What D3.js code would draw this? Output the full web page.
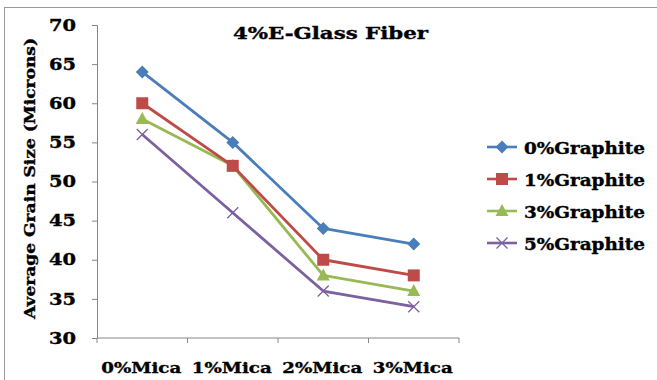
<!DOCTYPE html>
<html>
<head>
<meta charset="utf-8">
<script src="https://cdn.jsdelivr.net/npm/d3@7"></script>
<style>
  html, body { margin: 0; padding: 0; background: #fff; }
  svg { display: block; }
  text { font-family: "DejaVu Serif", serif; font-weight: bold; fill: #000; stroke: #000; stroke-width: 0.35px; }
</style>
</head>
<body>
<div id="chart"></div>
<script>
// Mica content categories along the x axis
const categories = ["0%Mica", "1%Mica", "2%Mica", "3%Mica"];

// Average grain size (microns) for each graphite content
const graphite0 = [64, 55, 44, 42];
const graphite1 = [60, 52, 40, 38];
const graphite3 = [58, 52, 38, 36];
const graphite5 = [56, 46, 36, 34];

const seriesNames = ["0%Graphite", "1%Graphite", "3%Graphite", "5%Graphite"];
const yTicks = [30, 35, 40, 45, 50, 55, 60, 65, 70];

const titleText = "4%E-Glass Fiber";
const yTitle = "Average Grain Size (Microns)";

const colors = ["#4a7ebb", "#be4b48", "#98b954", "#7d60a0"];
const symbols = ["diamond", "square", "triangle", "cross"];

const W = 657, H = 380;
const svg = d3.select("#chart").append("svg").attr("width", W).attr("height", H);

// Outer chart frame
svg.append("rect")
  .attr("x", 4.5).attr("y", 7.5).attr("width", W + 10).attr("height", H + 10)
  .attr("fill", "#fff").attr("stroke", "#9a9a9a").attr("stroke-width", 1);

const plot = { left: 97, right: 459, top: 25, bottom: 338 };

const x = d3.scaleBand().domain(categories).range([plot.left, plot.right]);
const y = d3.scaleLinear().domain([30, 70]).range([plot.bottom, plot.top]);

// Y axis
const yAxis = svg.append("g")
  .attr("transform", `translate(${plot.left},0)`)
  .call(d3.axisLeft(y).tickValues(yTicks).tickSize(5).tickPadding(16));
yAxis.selectAll("path, line").attr("stroke", "#868686");
yAxis.selectAll("text")
  .style("font-size", "16px")
  .attr("font-family", null)
  .attr("textLength", 27)
  .attr("lengthAdjust", "spacingAndGlyphs");

// X axis with tick marks at band boundaries
const xAxisG = svg.append("g").attr("transform", `translate(0,${plot.bottom})`);
xAxisG.append("line")
  .attr("x1", plot.left).attr("x2", plot.right)
  .attr("stroke", "#868686");
const bounds = categories.map(c => x(c)).concat([plot.right]);
xAxisG.selectAll("line.tick").data(bounds).enter().append("line")
  .attr("class", "tick")
  .attr("x1", d => d).attr("x2", d => d)
  .attr("y1", 0).attr("y2", 5)
  .attr("stroke", "#868686");
xAxisG.selectAll("text").data(categories).enter().append("text")
  .attr("x", d => x(d) + x.bandwidth() / 2 - 1)
  .attr("y", 35)
  .attr("text-anchor", "middle")
  .attr("textLength", 80)
  .attr("lengthAdjust", "spacingAndGlyphs")
  .style("font-size", "15px")
  .text(d => d);

// Title
svg.append("text")
  .attr("x", 330.5).attr("y", 39)
  .attr("text-anchor", "middle")
  .attr("textLength", 195)
  .attr("lengthAdjust", "spacingAndGlyphs")
  .style("font-size", "17px")
  .text(titleText);

// Y axis title
svg.append("text")
  .attr("transform", `translate(35,${(plot.top + plot.bottom) / 2 - 3}) rotate(-90)`)
  .attr("text-anchor", "middle")
  .attr("textLength", 281)
  .attr("lengthAdjust", "spacingAndGlyphs")
  .style("font-size", "14.5px")
  .text(yTitle);

const allSeries = [graphite0, graphite1, graphite3, graphite5];
const cx = c => x(c) + x.bandwidth() / 2;

const line = d3.line()
  .x((d, i) => cx(categories[i]))
  .y(d => y(d));

function drawMarker(g, type, color, px, py) {
  if (type === "diamond") {
    g.append("path")
      .attr("d", `M${px},${py - 6.5}L${px + 6.5},${py}L${px},${py + 6.5}L${px - 6.5},${py}Z`)
      .attr("fill", color);
  } else if (type === "square") {
    g.append("rect").attr("x", px - 6).attr("y", py - 6)
      .attr("width", 12).attr("height", 12).attr("fill", color);
  } else if (type === "triangle") {
    g.append("path")
      .attr("d", `M${px},${py - 7}L${px + 6.5},${py + 5}L${px - 6.5},${py + 5}Z`)
      .attr("fill", color);
  } else {
    g.append("path")
      .attr("d", `M${px - 5.5},${py - 5.5}L${px + 5.5},${py + 5.5}M${px - 5.5},${py + 5.5}L${px + 5.5},${py - 5.5}`)
      .attr("stroke", color).attr("stroke-width", 1.3).attr("fill", "none");
  }
}

// Series lines (last series drawn first so the first sits on top)
allSeries.slice().reverse().forEach((vals, ri) => {
  const i = allSeries.length - 1 - ri;
  const g = svg.append("g");
  g.append("path").datum(vals)
    .attr("d", line)
    .attr("fill", "none")
    .attr("stroke", colors[i])
    .attr("stroke-width", 2.8)
    .attr("stroke-linejoin", "round");
  vals.forEach((v, k) => drawMarker(g, symbols[i], colors[i], cx(categories[k]), y(v)));
});

// Legend
const legend = svg.append("g");
const legendY = [147, 179, 211, 243];
seriesNames.forEach((name, i) => {
  const ly = legendY[i];
  const g = legend.append("g");
  g.append("line")
    .attr("x1", 487).attr("x2", 517).attr("y1", ly).attr("y2", ly)
    .attr("stroke", colors[i]).attr("stroke-width", 2.6);
  drawMarker(g, symbols[i], colors[i], 502, ly);
  g.append("text")
    .attr("x", 524).attr("y", ly + 7)
    .attr("textLength", 121)
    .attr("lengthAdjust", "spacingAndGlyphs")
    .style("font-size", "16px")
    .text(name);
});
</script>
</body>
</html>
